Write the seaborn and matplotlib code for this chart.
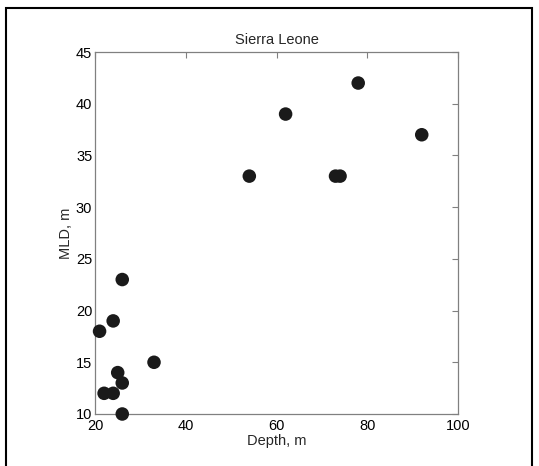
import matplotlib
matplotlib.use("Agg")
import matplotlib.pyplot as plt
import seaborn as sns
import pandas as pd
from matplotlib.patches import Rectangle

depth = [21, 22, 24, 24, 25, 26, 26, 26, 33, 54, 62, 73, 74, 78, 92]
mld = [18, 12, 12, 19, 14, 13, 10, 23, 15, 33, 39, 33, 33, 42, 37]
xticks = [20, 40, 60, 80, 100]
yticks = [10, 15, 20, 25, 30, 35, 40, 45]

sns.set_theme(style="white")
plt.rcParams['font.family'] = ['Liberation Sans', 'DejaVu Sans']

df = pd.DataFrame({"Depth": depth, "MLD": mld})

fig = plt.figure(figsize=(5.39, 4.66), dpi=100)
ax = fig.add_axes([0.1763, 0.1116, 0.6735, 0.7768])
sns.scatterplot(data=df, x="Depth", y="MLD", ax=ax, s=95, color="#1a1a1a",
                edgecolor="none", linewidth=0, zorder=3, clip_on=False)
ax.set_xlim(20, 100)
ax.set_ylim(10, 45)
ax.set_xticks(xticks)
ax.set_yticks(yticks)
ax.tick_params(direction="in", top=True, right=True, length=4, width=0.8,
               color="#808080", labelsize=10.5, labelcolor="black", pad=2)
ax.tick_params(axis="x", pad=3.5)
for sp in ax.spines.values():
    sp.set_color("#808080")
    sp.set_linewidth(0.9)
ax.set_xlabel("Depth, m", fontsize=10.5, labelpad=1)
ax.set_ylabel("MLD, m", fontsize=10.5, labelpad=2)
ax.set_title("Sierra Leone", fontsize=10.5, pad=6)

fig.patches.append(Rectangle((6/539, -0.05), 526/539, 1.05 - 8/466, transform=fig.transFigure,
                             fill=False, edgecolor="black", linewidth=1.5, zorder=10))
fig.savefig("out.png", dpi=100)
